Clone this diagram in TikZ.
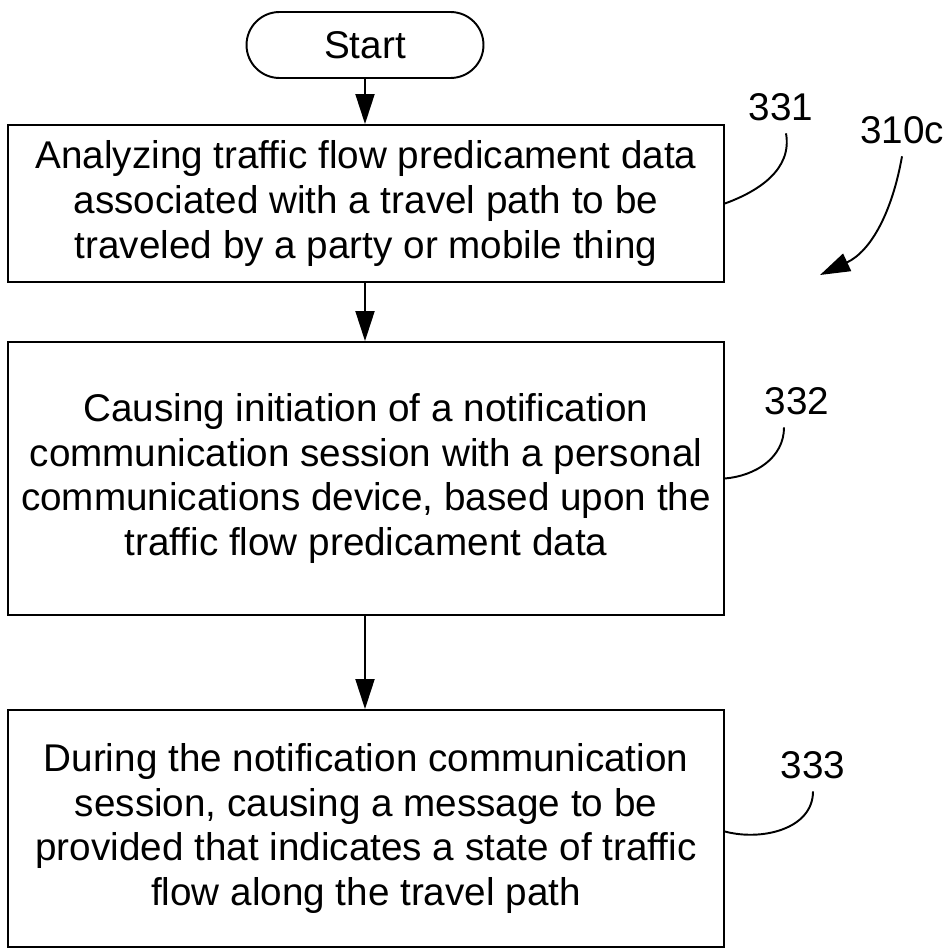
\documentclass[tikz,border=0pt]{standalone}
\usepackage{fontspec}
\setmainfont{Liberation Sans}
\usepackage{xcolor}
\usetikzlibrary{arrows.meta}
\tikzset{
  stepbox/.style={draw, line width=1.1pt, rectangle, minimum width=14.32cm, align=center, font=\fontsize{22}{25.5}\selectfont},
  startbox/.style={draw, line width=1.1pt, rectangle, rounded corners=0.66cm, minimum width=4.74cm, minimum height=1.32cm, font=\fontsize{22}{25.5}\selectfont},
  refnum/.style={font=\fontsize{22}{25.5}\selectfont, inner sep=7pt},
  flowarrow/.style={line width=1.1pt, -{Triangle[length=0.6cm, width=0.38cm]}},
  leader/.style={line width=1.1pt},
}

\begin{document}
\begin{tikzpicture}[x=0.02cm, y=-0.02cm]
  \useasboundingbox (0,0) rectangle (951,952);
  \node[startbox] (start) at (365,45) {Start};
  \node[stepbox, minimum height=3.14cm] (s331) at (366,203.5) {Analyzing traffic flow predicament data\\associated with a travel path to be\\traveled by a party or mobile thing};
  \node[stepbox, minimum height=5.46cm] (s332) at (366,478.5) {Causing initiation of a notification\\communication session with a personal\\communications device, based upon the\\traffic flow predicament data};
  \node[stepbox, minimum height=4.74cm] (s333) at (366,828.5) {During the notification communication\\session, causing a message to be\\provided that indicates a state of traffic\\flow along the travel path};
  \node[refnum] (r331) at (781,107) {331};
  \node[refnum] (r310) at (902,130) {310c};
  \node[refnum] (r332) at (797,401) {332};
  \node[refnum] (r333) at (813,765) {333};
  \coordinate (tip310) at (820,275);
  \draw[flowarrow] (start) -- (start |- s331.north);
  \draw[flowarrow] (start |- s331.south) -- (start |- s332.north);
  \draw[flowarrow] (start |- s332.south) -- (start |- s333.north);
  \draw[leader] ([xshift=0.1cm]r331.south) to[out=-80, in=20] (s331.east);
  \draw[leader] ([xshift=-0.26cm]r332.south) to[out=-90, in=5] (s332.east);
  \draw[leader] (r333.south) to[out=-90, in=-15] ([yshift=-0.06cm]s333.east);
  \draw[flowarrow] (r310.south) to[out=-100, in=25] (tip310);
\end{tikzpicture}
\end{document}
